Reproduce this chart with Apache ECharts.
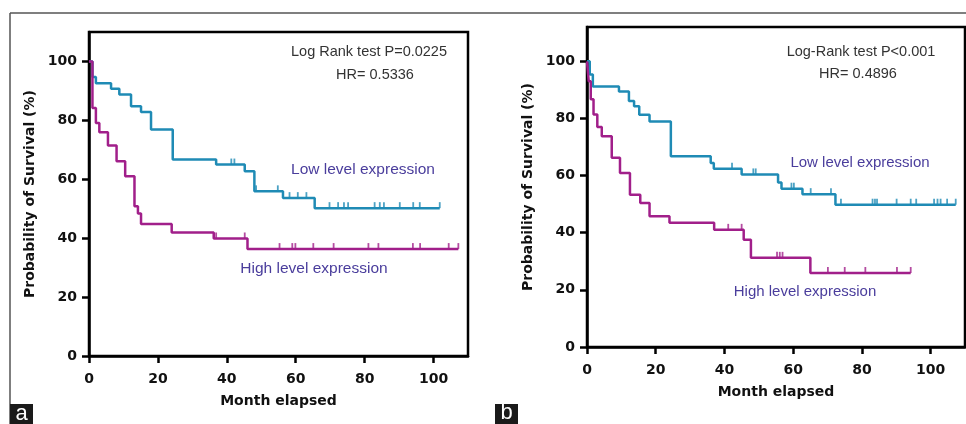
<!DOCTYPE html>
<html>
<head>
<meta charset="utf-8">
<script src="https://cdn.jsdelivr.net/npm/echarts@6/dist/echarts.min.js"></script>
<style>
html,body{margin:0;padding:0;background:#fff;}
#c{width:966px;height:424px;}
</style>
</head>
<body>
<div id="c"></div>
<script>
// ---------- DATA ----------
// Panel a
const aLowTimes = [0, 1, 2, 6.4, 8.8, 12.2, 15.1, 18, 24.3, 36.9, 45.2, 48, 56.3, 65.5];
const aLowVals  = [100, 94.7, 92.6, 90.7, 88.8, 84.8, 82.8, 76.9, 66.7, 65.0, 62.7, 55.9, 53.6, 50.2];
const aLowEnd = 101.8;
const aLowCensor = [41.3, 42.2, 48.5, 54.8, 58.2, 60.6, 63.1, 69.8, 72.3, 74, 75.2, 82.9, 84.4, 85.6, 90.2, 94.1, 96, 101.8];

const aHighTimes = [0, 1, 2, 3, 5.5, 8, 10.5, 13.2, 14.2, 15.1, 24.0, 36.2, 46.0];
const aHighVals  = [100, 84.2, 79.1, 76.0, 71.5, 66.1, 61.0, 50.8, 48.4, 44.8, 41.9, 39.9, 36.3];
const aHighEnd = 107.2;
const aHighCensor = [36.9, 45.2, 55.3, 59.0, 59.9, 65.1, 71.0, 81.1, 84.0, 94.0, 96.1, 104.4, 107.2];

// Panel b
const bLowTimes = [0, 0.8, 1.7, 9.3, 12.2, 13.7, 15.2, 18.2, 24.4, 36.0, 36.9, 45.0, 55.6, 56.6, 62.7, 72.3];
const bLowVals  = [100, 95.4, 91.2, 89.4, 86.1, 84.3, 81.3, 78.9, 66.8, 64.4, 62.4, 60.4, 57.6, 55.4, 53.5, 49.8];
const bLowEnd = 107.3;
const bLowCensor = [42.2, 48.4, 49.1, 59.5, 60.2, 65.1, 71.0, 73.9, 83.1, 83.8, 84.4, 90.1, 94.2, 95.8, 101.0, 102.0, 102.9, 104.8, 107.3];

const bHighTimes = [0, 0.5, 1.1, 1.9, 3.0, 4.3, 7.2, 9.6, 12.5, 15.5, 18.2, 24.0, 37.0, 45.6, 47.7, 65.0];
const bHighVals  = [100, 93, 86.7, 81.4, 77.0, 73.8, 66.2, 60.9, 53.3, 50.4, 45.8, 43.5, 41.0, 37.5, 31.2, 25.9];
const bHighEnd = 94.2;
const bHighCensor = [41.1, 45.0, 55.3, 56.1, 56.9, 70.1, 75.0, 81.0, 90.2, 94.2];

const xTicks = [0, 20, 40, 60, 80, 100];
const yTicks = [0, 20, 40, 60, 80, 100];

const panelTexts = {
  a: { test: 'Log Rank test P=0.0225', hr: 'HR= 0.5336' },
  b: { test: 'Log-Rank test P<0.001', hr: 'HR= 0.4896' }
};
const lowLabel = 'Low level expression';
const highLabel = 'High level expression';
const xName = 'Month elapsed';
const yName = 'Probability of Survival (%)';

// ---------- HELPERS ----------
function curve(times, vals, end) {
  const d = times.map((t, i) => [t, vals[i]]);
  d.push([end, vals[vals.length - 1]]);
  return d;
}
function valueAt(times, vals, t) {
  let v = vals[0];
  for (let i = 0; i < times.length; i++) { if (times[i] <= t) v = vals[i]; }
  return v;
}
function censor(times, vals, cs) {
  return cs.map(t => [t, valueAt(times, vals, t)]);
}

const BLUE = '#1f8bb5';
const PURPLE = '#a11f8a';
const AXFONT = 'DejaVu Sans';

function xAx(gi) {
  return {
    gridIndex: gi, type: 'value', min: 0, max: 110, interval: 20,
    name: xName, nameLocation: 'middle', nameGap: 38,
    nameTextStyle: { fontFamily: AXFONT, fontWeight: 'bold', fontSize: 14, color: '#111' },
    axisLine: { lineStyle: { color: '#000', width: 2.5 } },
    axisTick: { length: 7, lineStyle: { color: '#000', width: 2.5 }, customValues: xTicks },
    axisLabel: { margin: 16, fontFamily: AXFONT, fontWeight: 'bold', fontSize: 14, color: '#111',
                 customValues: xTicks },
    splitLine: { show: false }
  };
}
function yAx(gi, max) {
  return {
    gridIndex: gi, type: 'value', min: 0, max: max, interval: 20,
    name: yName, nameLocation: 'middle', nameGap: 52,
    nameTextStyle: { fontFamily: AXFONT, fontWeight: 'bold', fontSize: 14, color: '#111' },
    axisLine: { lineStyle: { color: '#000', width: 2.5 } },
    axisTick: { length: 7, lineStyle: { color: '#000', width: 2.5 }, customValues: yTicks },
    axisLabel: { margin: 12, fontFamily: AXFONT, fontWeight: 'bold', fontSize: 14, color: '#111',
                 customValues: yTicks },
    splitLine: { show: false }
  };
}
function lineS(gi, data, color) {
  return { type: 'line', xAxisIndex: gi, yAxisIndex: gi, step: 'end', data: data,
           showSymbol: false, lineStyle: { color: color, width: 2.5 }, itemStyle: { color: color },
           z: 3, silent: true };
}
function censS(gi, data, color) {
  return { type: 'scatter', xAxisIndex: gi, yAxisIndex: gi, data: data,
           symbol: 'rect', symbolSize: [1.8, 6], symbolOffset: [0, -3],
           itemStyle: { color: color }, z: 4, silent: true };
}
function txt(x, y, s, color, size) {
  return { type: 'text', x: x, y: y, style: { text: s, fill: color, font: size + 'px "Liberation Sans", Arial, sans-serif',
           textAlign: 'center', textVerticalAlign: 'middle' }, z: 10 };
}

const chart = echarts.init(document.getElementById('c'), null, { renderer: 'canvas' });
chart.setOption({
  animation: false,
  backgroundColor: '#fff',
  grid: [
    { left: 89, top: 32, width: 379, height: 324, show: true, borderColor: '#000', borderWidth: 2.5, backgroundColor: 'transparent' },
    { left: 587, top: 27, width: 378, height: 320, show: true, borderColor: '#000', borderWidth: 2.5, backgroundColor: 'transparent' }
  ],
  xAxis: [xAx(0), xAx(1)],
  yAxis: [yAx(0, 110), yAx(1, 112)],
  series: [
    lineS(0, curve(aLowTimes, aLowVals, aLowEnd), BLUE),
    lineS(0, curve(aHighTimes, aHighVals, aHighEnd), PURPLE),
    censS(0, censor(aLowTimes, aLowVals, aLowCensor), BLUE),
    censS(0, censor(aHighTimes, aHighVals, aHighCensor), PURPLE),
    lineS(1, curve(bLowTimes, bLowVals, bLowEnd), BLUE),
    lineS(1, curve(bHighTimes, bHighVals, bHighEnd), PURPLE),
    censS(1, censor(bLowTimes, bLowVals, bLowCensor), BLUE),
    censS(1, censor(bHighTimes, bHighVals, bHighCensor), PURPLE)
  ],
  graphic: [
    { type: 'line', shape: { x1: 10, y1: 13, x2: 966, y2: 13 }, style: { stroke: '#555', lineWidth: 1.5 } },
    { type: 'line', shape: { x1: 10, y1: 13, x2: 10, y2: 424 }, style: { stroke: '#555', lineWidth: 1.5 } },
    txt(369, 52, panelTexts.a.test, '#333', 14.5),
    txt(375, 75, panelTexts.a.hr, '#333', 14.5),
    txt(363, 170, lowLabel, '#4a3d9c', 15.5),
    txt(314, 269, highLabel, '#4a3d9c', 15.5),
    txt(861, 52, panelTexts.b.test, '#333', 14.5),
    txt(858, 74, panelTexts.b.hr, '#333', 14.5),
    txt(860, 163, lowLabel, '#4a3d9c', 15),
    txt(805, 292, highLabel, '#4a3d9c', 15),
    { type: 'rect', shape: { x: 10, y: 404, width: 23, height: 20 }, style: { fill: '#1a1a1a' } },
    { type: 'text', x: 21.5, y: 414, style: { text: 'a', fill: '#fff', font: '22px "Liberation Sans", Arial, sans-serif', textAlign: 'center', textVerticalAlign: 'middle' } },
    { type: 'rect', shape: { x: 495, y: 404, width: 23, height: 20 }, style: { fill: '#1a1a1a' } },
    { type: 'text', x: 506.5, y: 413, style: { text: 'b', fill: '#fff', font: '22px "Liberation Sans", Arial, sans-serif', textAlign: 'center', textVerticalAlign: 'middle' } }
  ]
});
</script>
</body>
</html>
